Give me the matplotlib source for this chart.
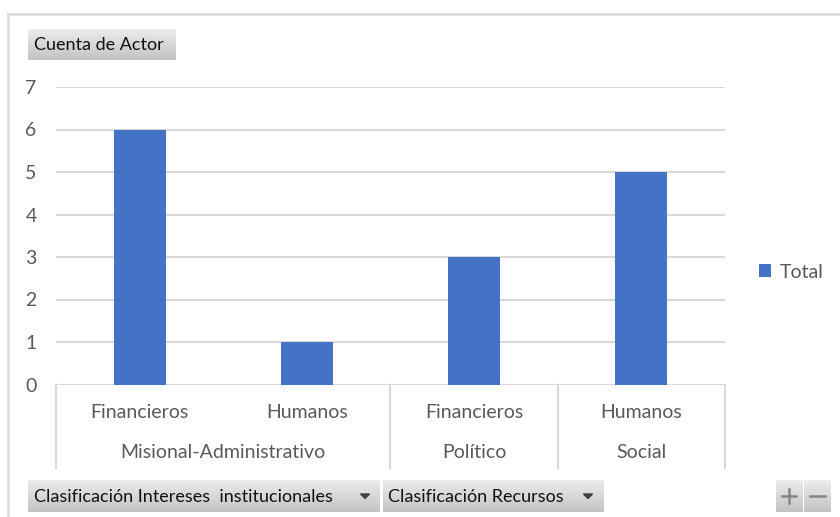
import matplotlib
matplotlib.use("Agg")
import matplotlib.pyplot as plt
import matplotlib.transforms as mtransforms
from matplotlib.patches import Polygon
from matplotlib.colors import LinearSegmentedColormap
import numpy as np

plt.rcParams['font.family'] = ['Lato', 'DejaVu Sans']

# ---- data ----
groups = ["Misional-Administrativo", "Político", "Social"]
group_sizes = [2, 1, 1]
categories = ["Financieros", "Humanos", "Financieros", "Humanos"]
values = [6, 1, 3, 5]
yticks = [0, 1, 2, 3, 4, 5, 6, 7]
series_name = "Total"
value_field = "Cuenta de Actor"
row_fields = ["Clasificación Intereses  institucionales", "Clasificación Recursos"]

W, H = 840, 517
fig = plt.figure(figsize=(W / 100, H / 100), dpi=100)
fig.patch.set_facecolor("white")

# overlay axes in pixel coordinates (for decorations)
ov = fig.add_axes([0, 0, 1, 1], zorder=0)
ov.set_xlim(0, W)
ov.set_ylim(H, 0)
ov.axis("off")

left, right, top, bottom = 56, 725, 87, 384.5
ax = fig.add_axes([left / W, (H - bottom) / H, (right - left) / W, (bottom - top) / H], zorder=2)
ax.patch.set_alpha(0)

x = np.arange(len(categories))
bars = ax.bar(x, values, width=0.31, color="#4472C4", zorder=3, label=series_name)
ax.set_xlim(-0.5, len(categories) - 0.5)
ax.set_ylim(0, 7)
ax.set_yticks(yticks)
ax.set_yticklabels([str(t) for t in yticks])
ax.tick_params(axis="y", length=0, pad=14, labelsize=14, labelcolor="#595959")
ax.set_xticks([])
for s in ax.spines.values():
    s.set_visible(False)
ax.yaxis.grid(True, color="#d9d9d9", linewidth=1.5, zorder=0)
ax.set_axisbelow(True)

# category labels (x from data, y in pixels)
bt = mtransforms.blended_transform_factory(ax.transData, ov.transData)
for xi, c in zip(x, categories):
    ax.text(xi, 412, c, transform=bt, ha="center", va="center", fontsize=14, color="#595959", clip_on=False)

# group labels and separators
start = -0.5
bounds = [start]
for g, n in zip(groups, group_sizes):
    center = start + n / 2
    ax.text(center, 453, g, transform=bt, ha="center", va="center", fontsize=14, color="#595959", clip_on=False)
    start += n
    bounds.append(start)
for b in bounds:
    ax.plot([b, b], [385, 468], transform=bt, color="#d9d9d9", lw=1.5, clip_on=False)

# legend
fig.legend(handles=[bars], labels=[series_name], loc="center left",
           bbox_to_anchor=(759 / W, 1 - 272 / H), frameon=False,
           handlelength=0.6, handleheight=0.6, handletextpad=0.45,
           borderpad=0, borderaxespad=0, fontsize=14, labelcolor="#595959")

# outer border
ov.plot([8, 8], [H, 14], color="#d9d9d9", lw=1.8)
ov.plot([8, W], [14, 14], color="#d9d9d9", lw=1.8)

grad = np.linspace(0, 1, 64).reshape(-1, 1)
cm = LinearSegmentedColormap.from_list("btn", ["#ececec", "#c3c3c3"])

def button(x0, x1, y0, y1, text=None, arrow=False, fs=13):
    ov.imshow(grad, extent=(x0, x1, y1, y0), aspect="auto", cmap=cm, zorder=1, interpolation="bilinear")
    if text:
        ov.text(x0 + 6, (y0 + y1) / 2 + 0.5, text, ha="left", va="center", fontsize=fs, color="#111111", zorder=2)
    if arrow:
        cx, cy = x1 - 15, (y0 + y1) / 2
        ov.add_patch(Polygon([[cx - 4.5, cy - 2], [cx + 4.5, cy - 2], [cx, cy + 2.5]], closed=True,
                             color="#404040", zorder=2))

button(28, 176, 29, 60, value_field)
button(28, 380, 480, 512, row_fields[0], arrow=True)
button(382.5, 603, 480, 512, row_fields[1], arrow=True)
button(776, 802.5, 480, 512)
button(804, 831, 480, 512)
ov.plot([782, 796], [496, 496], color="#858585", lw=1.8, zorder=3)
ov.plot([789, 789], [489, 503], color="#858585", lw=1.8, zorder=3)
ov.plot([810, 825], [496, 496], color="#858585", lw=1.8, zorder=3)

ov.set_xlim(0, W)
ov.set_ylim(H, 0)

fig.savefig("out.png", dpi=100, facecolor="white")
